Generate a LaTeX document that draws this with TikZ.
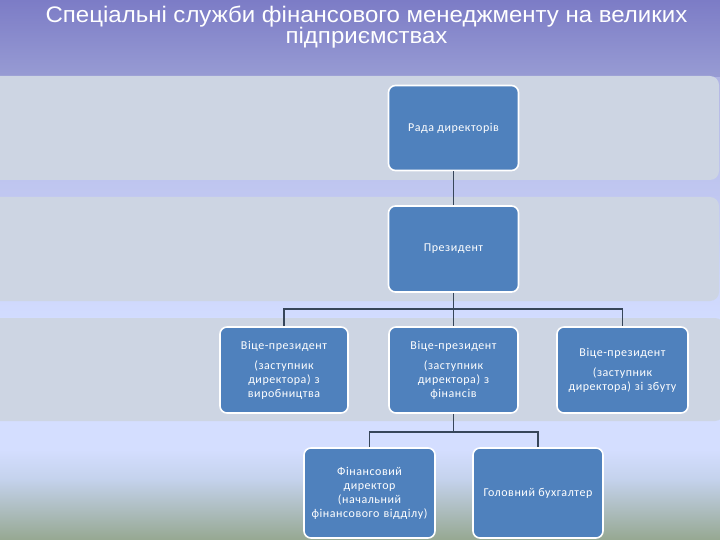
\documentclass[tikz,border=0pt]{standalone}
\usepackage{fontspec}
\setmainfont{Liberation Sans}
\newfontfamily\boxfont[LetterSpace=4.5]{Carlito}
\definecolor{bgA}{RGB}{124,124,198}
\definecolor{bgB}{RGB}{152,156,212}
\definecolor{bgC}{RGB}{176,180,228}
\definecolor{bgD}{RGB}{210,220,255}
\definecolor{bgE}{RGB}{212,222,255}
\definecolor{bgF}{RGB}{196,210,236}
\definecolor{bgG}{RGB}{150,168,145}
\definecolor{bandc}{RGB}{205,213,227}
\definecolor{boxblue}{RGB}{79,129,189}
\definecolor{linec}{RGB}{55,70,90}
\tikzset{
  orgbox/.style={rectangle, rounded corners=7pt, fill=boxblue, draw=white, line width=1.6pt,
    text=white, font=\boxfont\fontsize{12}{14}\selectfont, align=center, inner sep=3pt},
  conn/.style={draw=linec, line width=1.4pt},
  band/.style={fill=bandc, rounded corners=9pt}
}
\begin{document}
\begin{tikzpicture}[x=1pt,y=-1pt]
\useasboundingbox (0,0) rectangle (720,540);
% background
\shade[top color=bgA, bottom color=bgB] (0,0) rectangle (720,78);
\shade[top color=bgC, bottom color=bgD] (0,78) rectangle (720,320);
\fill[bgE] (0,320) rectangle (720,450);
\shade[top color=bgE, bottom color=bgF] (0,449.5) rectangle (720,480);
\shade[top color=bgF, bottom color=bgG] (0,479.5) rectangle (720,540);
% bands
\fill[band] (-20,76) rectangle (719,180);
\fill[band] (-20,197) rectangle (719,301);
\fill[band] (-20,318) rectangle (724,421);
% title
\node[text=white, font=\fontsize{22.5}{22}\selectfont, inner sep=0pt] (title) at (366.5,28)
  {\scalebox{1.067}[1]{\begin{tabular}{@{}c@{}}Спеціальні служби фінансового менеджменту на великих\\[-2pt]підприємствах\end{tabular}}};
% boxes
\node[orgbox, minimum width=130pt, minimum height=85pt] (rada) at (453.5,128) {Рада директорів};
\node[orgbox, minimum width=130pt, minimum height=86pt] (prez) at (453.5,249) {Президент};
\node[orgbox, minimum width=128pt, minimum height=86pt, text width=120pt] (vp1) at (284,370)
  {Віце-президент\\[6pt](заступник\\директора) з\\виробництва};
\node[orgbox, minimum width=129pt, minimum height=86pt, text width=120pt] (vp2) at (453.5,370)
  {Віце-президент\\[6pt](заступник\\директора) з\\фінансів};
\node[orgbox, minimum width=129pt, minimum height=86pt, text width=125pt] (vp3) at (622.5,370)
  {Віце-президент\\[6pt](заступник\\директора) зі збуту};
\node[orgbox, minimum width=129pt, minimum height=90pt, text width=125pt] (fd) at (369.5,493)
  {Фінансовий\\директор\\(начальний\\фінансового відділу)};
\node[orgbox, minimum width=130pt, minimum height=90pt] (gb) at (538,493) {Головний бухгалтер};
% connectors
\coordinate (b1) at (453.5,309);
\coordinate (b2) at (453.5,432);
\draw[conn] (rada.south) -- (prez.north);
\draw[conn] (prez.south) -- (b1);
\draw[conn] (vp1.north) |- (b1) -| (vp3.north);
\draw[conn] (b1) -- (vp2.north);
\draw[conn] (vp2.south) -- (b2);
\draw[conn] (fd.north) |- (b2) -| (gb.north);
\end{tikzpicture}
\end{document}
